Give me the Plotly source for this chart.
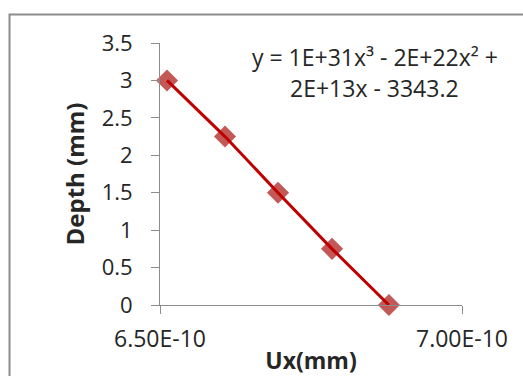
import plotly.graph_objects as go

ux = [6.5116e-10, 6.6076e-10, 6.6954e-10, 6.7848e-10, 6.879e-10]
depth = [3.0, 2.25, 1.5, 0.75, 0.0]
x_tickvals = [6.5e-10, 7.0e-10]
x_ticktext = ["6.50E-10", "7.00E-10"]
y_tickvals = [0, 0.5, 1, 1.5, 2, 2.5, 3, 3.5]
equation = ["y = 1E+31x³ - 2E+22x² +", "2E+13x - 3343.2"]

FONT = "Open Sans"
TXT = "#262626"
fig = go.Figure()
fig.add_trace(go.Scatter(x=ux, y=depth, mode="markers",
                         marker=dict(symbol="diamond", size=17, color="#C0504D",
                                     opacity=0.95),
                         showlegend=False, cliponaxis=False))
fig.add_trace(go.Scatter(x=ux, y=depth, mode="lines",
                         line=dict(color="#C00000", width=3),
                         showlegend=False, cliponaxis=False))

fig.update_layout(
    width=523, height=376,
    margin=dict(l=160, r=61, t=43, b=71),
    paper_bgcolor="white", plot_bgcolor="white",
    font=dict(family=FONT, size=22, color=TXT),
    xaxis=dict(range=[6.5e-10, 7.0e-10], tickvals=x_tickvals, ticktext=x_ticktext,
               automargin=False,
               showgrid=False, zeroline=False, showline=True, linecolor="#8c8c8c",
               linewidth=1, ticks="outside", ticklen=8, tickcolor="#8c8c8c",
               ticklabelstandoff=5,
               tickfont=dict(size=23, family=FONT, color=TXT),
               title=dict(text="<b>Ux(mm)</b>", font=dict(size=23, family=FONT, color=TXT), standoff=6)),
    yaxis=dict(range=[0, 3.5], tickvals=y_tickvals,
               automargin=False,
               showgrid=False, zeroline=False, showline=True, linecolor="#8c8c8c",
               linewidth=1, ticks="outside", ticklen=8, tickcolor="#8c8c8c",
               ticklabelstandoff=14,
               tickfont=dict(size=22, family=FONT, color=TXT),
               title=dict(text="<b>Depth (mm)</b>", font=dict(size=24, family=FONT, color=TXT), standoff=10)),
    shapes=[dict(type="rect", xref="paper", yref="paper",
                 x0=-0.4983, x1=1.4, y0=-0.5, y1=1.1088,
                 line=dict(color="#8c8c8c", width=2), fillcolor="rgba(0,0,0,0)", layer="below")],
    annotations=[
        dict(xref="paper", yref="paper", x=(375 - 160) / 302, y=(305 - 57) / 262,
             text=equation[0], showarrow=False, xanchor="center", yanchor="middle",
             font=dict(size=23, family=FONT, color=TXT)),
        dict(xref="paper", yref="paper", x=(374 - 160) / 302, y=(305 - 88) / 262,
             text=equation[1], showarrow=False, xanchor="center", yanchor="middle",
             font=dict(size=23, family=FONT, color=TXT)),
    ],
)
fig.write_html("out.html")
